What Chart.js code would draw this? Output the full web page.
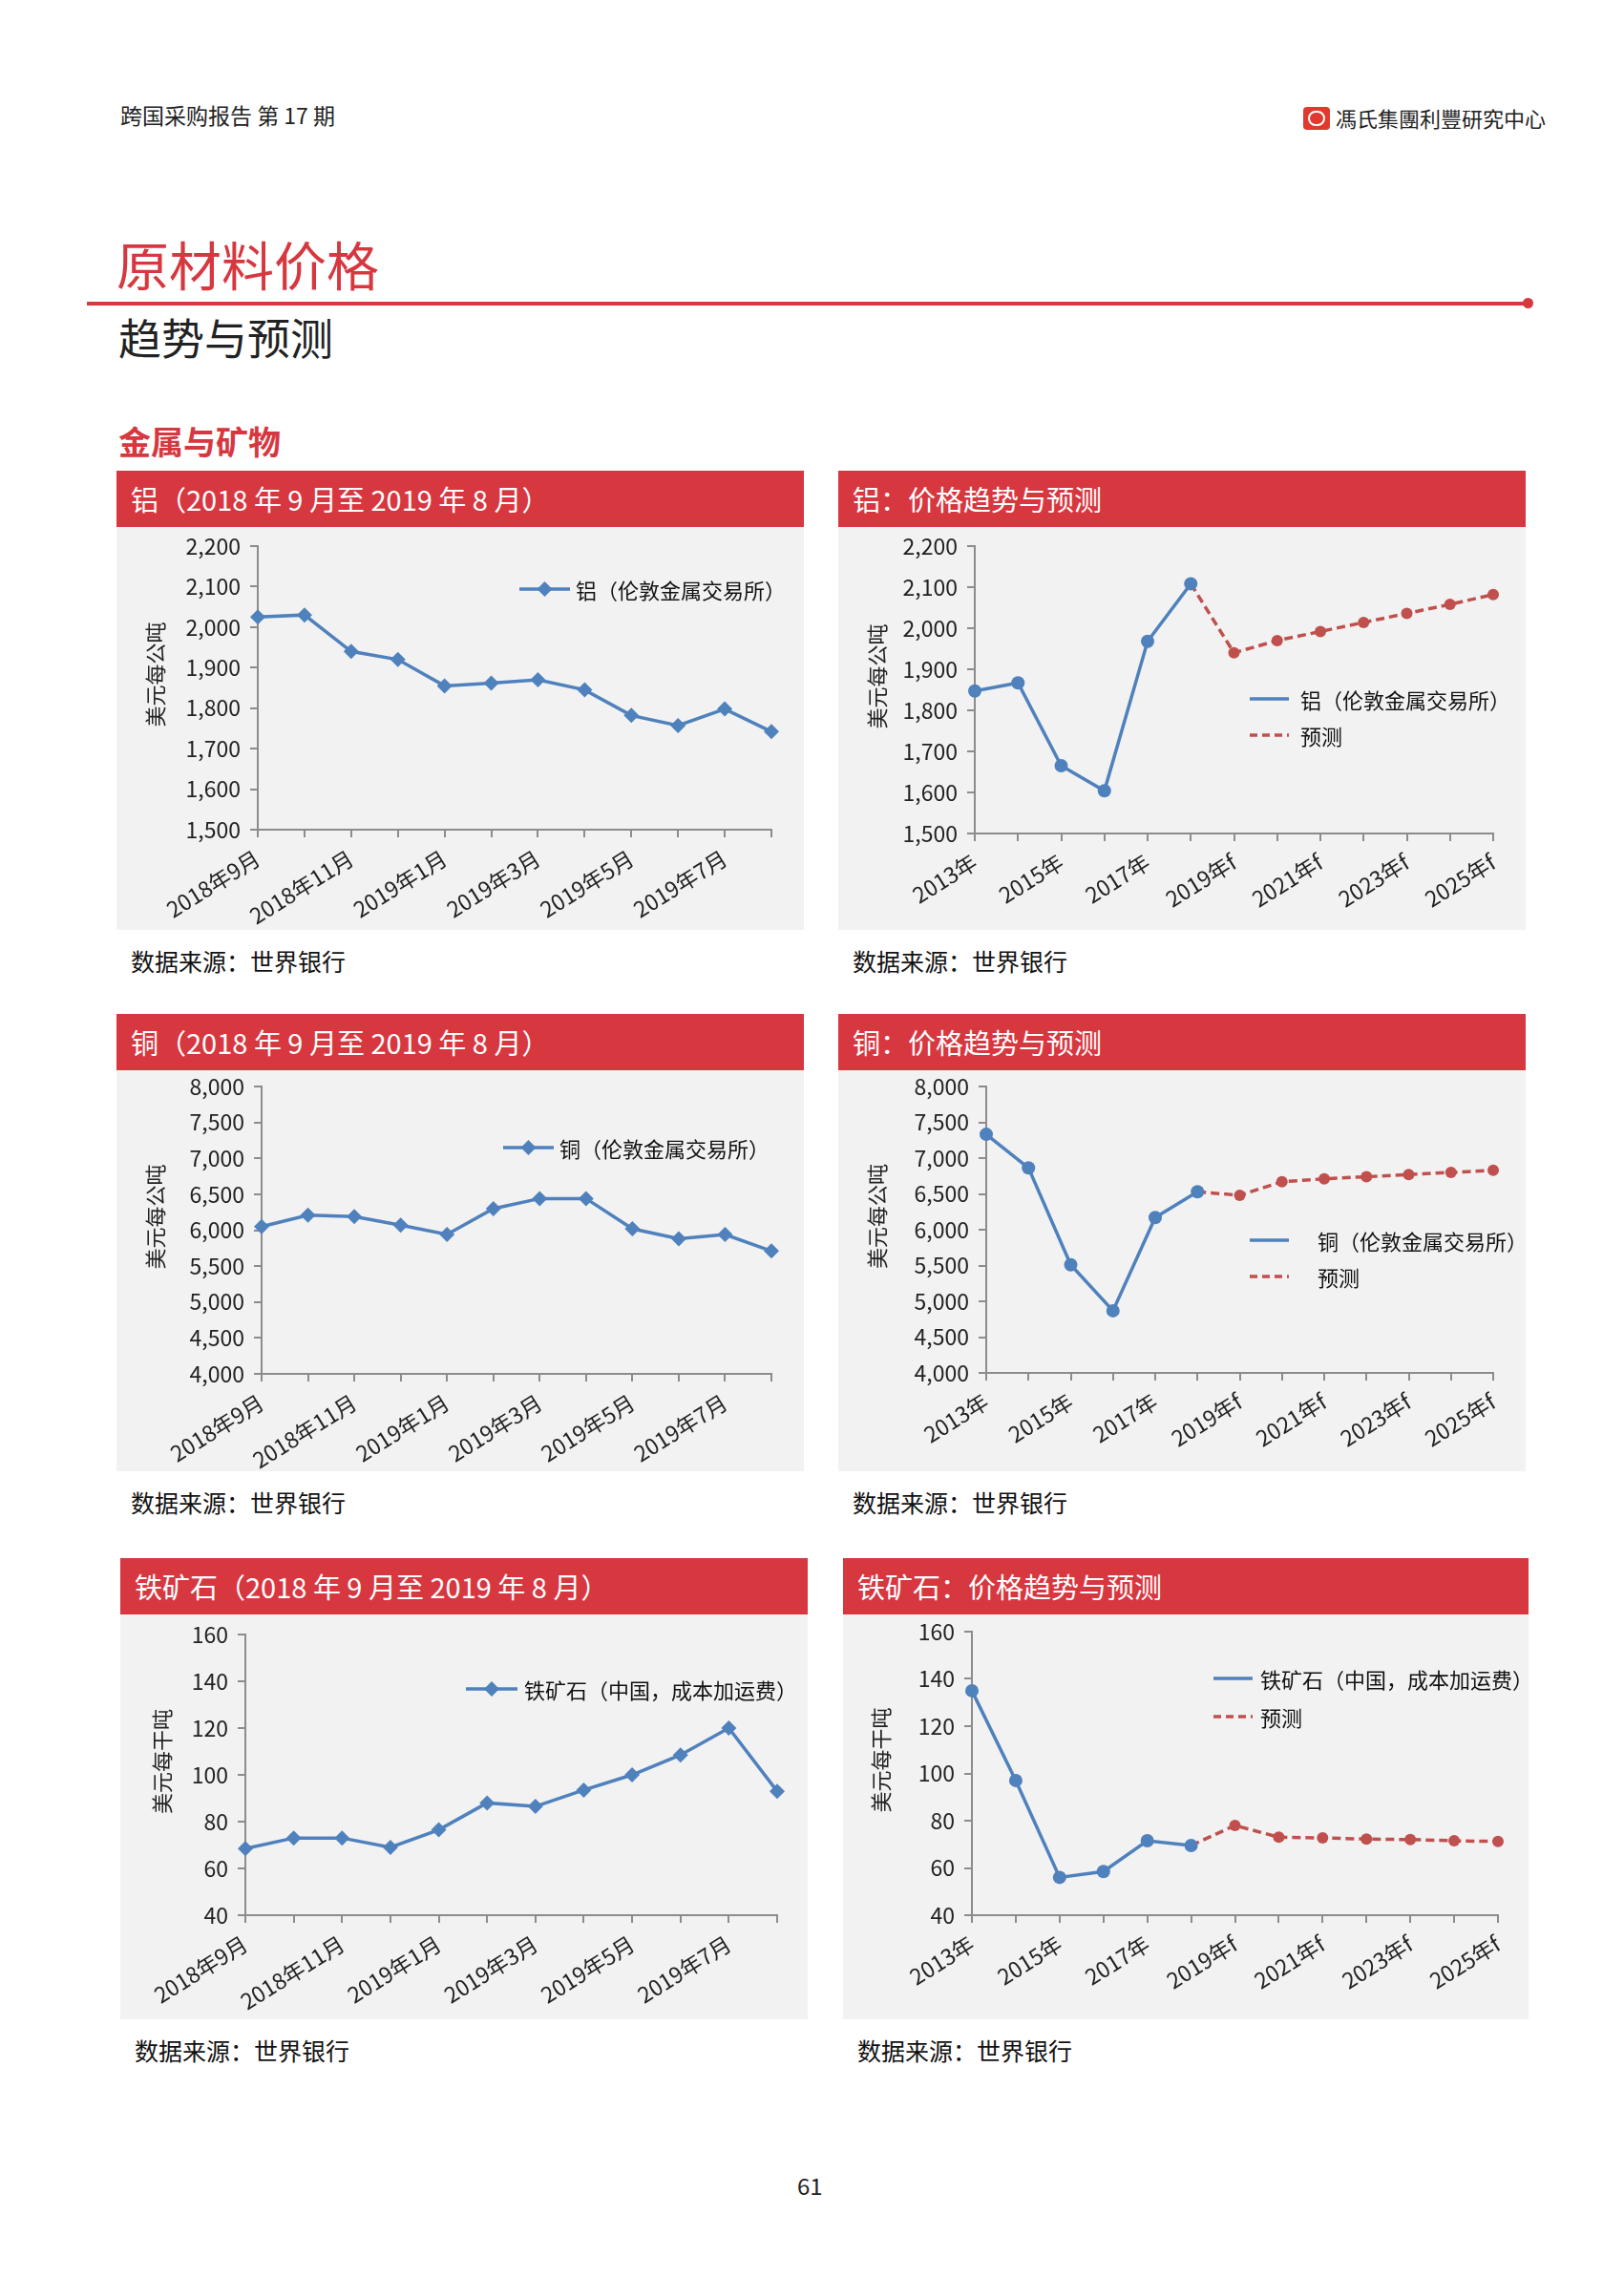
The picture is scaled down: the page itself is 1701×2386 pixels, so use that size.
<!DOCTYPE html>
<html>
<head>
<meta charset="utf-8">
<script src="https://cdn.jsdelivr.net/npm/chart.js@4.4.1/dist/chart.umd.min.js"></script>
<style>
  html, body { margin: 0; padding: 0; background: #fff; }
  body { font-family: "Noto Sans CJK SC", "Noto Sans", sans-serif; color: #222; }
  #page { position: relative; width: 1701px; height: 2386px; overflow: hidden; }
  .abs { position: absolute; white-space: nowrap; }
  .panel { position: absolute; }
  .panel .hd { background: #D7373F; color: #fff; font-size: 29px; line-height: 59px; height: 59px; padding-left: 15px; box-sizing: border-box; }
  .panel .bd { position: relative; background: #F2F2F2; }
  .panel canvas { display: block; }
  .panel .src { position: absolute; left: 15px; font-size: 25px; color: #111; }
  .lg { position: absolute; font-size: 22px; color: #111; white-space: nowrap; }
  .lg svg { position: absolute; }
</style>
</head>
<body>
<div id="page">
  <div class="abs" style="left:126px; top:103px; font-size:23px;">跨国采购报告 第 17 期</div>
  <div class="abs" style="left:1365px; top:112px; width:28px; height:24px; background:#E03A2E; border-radius:4px;">
    <div style="position:absolute; left:5px; top:4px; width:18px; height:16px; border:2px solid #fff; border-radius:8px; box-sizing:border-box;"></div>
  </div>
  <div class="abs" style="left:1399px; top:107px; font-size:22px; font-family:'Noto Sans CJK TC';">馮氏集團利豐研究中心</div>

  <div class="abs" style="left:122px; top:235px; font-size:55px; color:#D7373F;">原材料价格</div>
  <div class="abs" style="left:91px; top:316px; width:1506px; height:4px; background:#D7373F;"></div>
  <div class="abs" style="left:1595px; top:312px; width:11px; height:11px; border-radius:50%; background:#D7373F;"></div>
  <div class="abs" style="left:124px; top:320px; font-size:45px; color:#222;">趋势与预测</div>
  <div class="abs" style="left:124px; top:437px; font-size:34px; font-weight:bold; color:#D7373F;">金属与矿物</div>

  <div class="abs" style="left:835px; top:2271px; font-size:24px;">61</div>
</div>

<script>
// ---- data: aluminium, copper, iron ore (World Bank) ----
const monthLabels = ['2018年9月', '2018年10月', '2018年11月', '2018年12月', '2019年1月', '2019年2月',
                     '2019年3月', '2019年4月', '2019年5月', '2019年6月', '2019年7月', '2019年8月'];
const yearLabels = ['2013年', '2014年', '2015年', '2016年', '2017年', '2018年',
                    '2019年f', '2020年f', '2021年f', '2022年f', '2023年f', '2024年f', '2025年f'];

const aluMonthly = [2025, 2030, 1940, 1920, 1855, 1862, 1870, 1845, 1782, 1757, 1798, 1742];
const aluActual = [1847, 1867, 1665, 1604, 1968, 2108, null, null, null, null, null, null, null];
const aluForecast = [null, null, null, null, null, 2108, 1940, 1970, 1992, 2014, 2036, 2058, 2082];

const cuMonthly = [6050, 6210, 6190, 6070, 5940, 6300, 6440, 6440, 6020, 5880, 5940, 5710];
const cuActual = [7332, 6863, 5510, 4868, 6170, 6530, null, null, null, null, null, null, null];
const cuForecast = [null, null, null, null, null, 6530, 6480, 6670, 6710, 6740, 6770, 6800, 6830];

const feMonthly = [68.5, 73, 73, 69, 76.5, 88, 86.5, 93.5, 100, 108.5, 120, 93];
const feActual = [135, 97, 56, 58.5, 71.5, 69.5, null, null, null, null, null, null, null];
const feForecast = [null, null, null, null, null, 69.5, 78, 73, 72.7, 72.2, 72, 71.5, 71.2];

// [min, max, step]
const aluTicks = [1500, 2200, 100];
const cuTicks = [4000, 8000, 500];
const feTicks = [40, 160, 20];

const BLUE = '#4F81BD';
const RED = '#C0504D';
const AXIS = '#8C8C8C';
const FONT = '"Noto Sans CJK SC", "Noto Sans", sans-serif';

const page = document.getElementById('page');

// vertical axis title, drawn a little above the middle like the original
const yTitlePlugin = {
    id: 'yTitle',
    afterDraw: function(chart, args, opts) {
        const ctx = chart.ctx;
        const area = chart.chartArea;
        ctx.save();
        ctx.translate(opts.x, (area.top + area.bottom) / 2 - 14);
        ctx.rotate(-Math.PI / 2);
        ctx.fillStyle = '#222';
        ctx.font = '22px ' + FONT;
        ctx.textAlign = 'center';
        ctx.textBaseline = 'middle';
        ctx.fillText(opts.text, 0, 0);
        ctx.restore();
    }
};

// one red-headed panel with grey chart body and source line
function addPanel(p) {
    const el = document.createElement('div');
    el.className = 'panel';
    el.style.left = p.x + 'px';
    el.style.top = p.y + 'px';
    el.style.width = p.w + 'px';
    el.innerHTML = '<div class="hd">' + p.title + '</div>' +
        '<div class="bd" style="height:' + p.h + 'px"><canvas width="' + p.w + '" height="' + p.h + '"></canvas></div>' +
        '<div class="src" style="top:' + (59 + p.h + 14) + 'px">数据来源：世界银行</div>';
    page.appendChild(el);
    const bd = el.querySelector('.bd');
    p.legend.forEach(function(item) {
        const lg = document.createElement('div');
        lg.className = 'lg';
        lg.style.left = item.x + 'px';
        lg.style.top = (item.y - 15) + 'px';
        const w = item.w;
        let svg = '<svg width="' + w + '" height="30" style="left:0;top:0">';
        svg += '<line x1="0" y1="15" x2="' + w + '" y2="15" stroke="' + item.color + '" stroke-width="3.5"' +
               (item.dash ? ' stroke-dasharray="8,5"' : '') + '/>';
        if (item.diamond) {
            const c = w / 2;
            svg += '<polygon points="' + c + ',7 ' + (c + 8) + ',15 ' + c + ',23 ' + (c - 8) + ',15" fill="' + item.color + '"/>';
        }
        svg += '</svg>';
        lg.innerHTML = svg + '<span style="position:absolute; left:' + item.tx + 'px; top:0; line-height:30px;">' + item.text + '</span>';
        bd.appendChild(lg);
    });
    return el.querySelector('canvas');
}

function buildChart(canvas, p, labels, datasets, ticks) {
    return new Chart(canvas, {
        type: 'line',
        data: { labels: labels, datasets: datasets },
        plugins: [yTitlePlugin],
        options: {
            responsive: false,
            animation: false,
            devicePixelRatio: 1,
            layout: { padding: { left: 0, top: p.top, right: p.w - p.right, bottom: 0 } },
            plugins: {
                legend: { display: false },
                tooltip: { enabled: false },
                yTitle: { text: p.yTitle, x: p.titleX }
            },
            scales: {
                x: {
                    offset: false,
                    grid: { display: true, drawOnChartArea: false, drawTicks: true, tickLength: 8, color: AXIS, lineWidth: 2 },
                    border: { display: true, color: AXIS, width: 2 },
                    ticks: {
                        autoSkip: false, minRotation: 32, maxRotation: 32, padding: 8,
                        color: '#222', font: { family: FONT, size: 23 },
                        callback: function(v, i) { return i % 2 === 0 ? this.getLabelForValue(v) : ''; }
                    },
                    afterFit: function(s) { s.height = p.h - p.bottom; s.paddingLeft = 0; s.paddingRight = 0; }
                },
                y: {
                    min: ticks[0], max: ticks[1],
                    grid: { display: true, drawOnChartArea: false, drawTicks: true, tickLength: 8, color: AXIS, lineWidth: 2 },
                    border: { display: true, color: AXIS, width: 2 },
                    ticks: {
                        stepSize: ticks[2], padding: 10, color: '#222', font: { family: FONT, size: 23 },
                        callback: function(v) { return v.toLocaleString('en-US'); }
                    },
                    afterFit: function(s) { s.width = p.axisX; s.paddingTop = 0; s.paddingBottom = 0; }
                }
            }
        }
    });
}

function monthlyChart(p, values, ticks) {
    const canvas = addPanel(p);
    buildChart(canvas, p, monthLabels, [{
        data: values,
        borderColor: BLUE, backgroundColor: BLUE, borderWidth: 3.5,
        pointStyle: 'rectRot', pointRadius: 8, pointBorderWidth: 0, tension: 0
    }], ticks);
}

function trendChart(p, actual, forecast, ticks) {
    const canvas = addPanel(p);
    buildChart(canvas, p, yearLabels, [{
        data: actual,
        borderColor: BLUE, backgroundColor: BLUE, borderWidth: 3.5,
        pointStyle: 'circle', pointRadius: 7, pointBorderWidth: 0, tension: 0, spanGaps: false
    }, {
        data: forecast,
        borderColor: RED, backgroundColor: RED, borderWidth: 3.5, borderDash: [9, 5],
        pointStyle: 'circle', pointRadius: forecast.map(function(v, i) { return i === 5 ? 0 : 6; }),
        pointBorderWidth: 0, tension: 0, spanGaps: false
    }], ticks);
}

// ---- row 1: aluminium ----
monthlyChart({
    x: 122, y: 493, w: 720, h: 422, title: '铝（2018 年 9 月至 2019 年 8 月）', yTitle: '美元每公吨',
    axisX: 148, top: 20, bottom: 317, right: 686, titleX: 41,
    legend: [{ x: 422, y: 65, w: 53, tx: 59, color: BLUE, diamond: true, text: '铝（伦敦金属交易所）' }]
}, aluMonthly, aluTicks);

trendChart({
    x: 878, y: 493, w: 720, h: 422, title: '铝：价格趋势与预测', yTitle: '美元每公吨',
    axisX: 143, top: 20, bottom: 321, right: 686, titleX: 41,
    legend: [{ x: 431, y: 180, w: 41, tx: 53, color: BLUE, text: '铝（伦敦金属交易所）' },
             { x: 431, y: 218, w: 41, tx: 53, color: RED, dash: true, text: '预测' }]
}, aluActual, aluForecast, aluTicks);

// ---- row 2: copper ----
monthlyChart({
    x: 122, y: 1062, w: 720, h: 420, title: '铜（2018 年 9 月至 2019 年 8 月）', yTitle: '美元每公吨',
    axisX: 152, top: 17, bottom: 318, right: 686, titleX: 41,
    legend: [{ x: 405, y: 81, w: 53, tx: 59, color: BLUE, diamond: true, text: '铜（伦敦金属交易所）' }]
}, cuMonthly, cuTicks);

trendChart({
    x: 878, y: 1062, w: 720, h: 420, title: '铜：价格趋势与预测', yTitle: '美元每公吨',
    axisX: 155, top: 17, bottom: 317, right: 686, titleX: 41,
    legend: [{ x: 431, y: 178, w: 41, tx: 71, color: BLUE, text: '铜（伦敦金属交易所）' },
             { x: 431, y: 216, w: 41, tx: 71, color: RED, dash: true, text: '预测' }]
}, cuActual, cuForecast, cuTicks);

// ---- row 3: iron ore ----
monthlyChart({
    x: 126, y: 1632, w: 720, h: 424, title: '铁矿石（2018 年 9 月至 2019 年 8 月）', yTitle: '美元每干吨',
    axisX: 131, top: 21, bottom: 315, right: 688, titleX: 44,
    legend: [{ x: 362, y: 78, w: 54, tx: 61, color: BLUE, diamond: true, text: '铁矿石（中国，成本加运费）' }]
}, feMonthly, feTicks);

trendChart({
    x: 883, y: 1632, w: 718, h: 424, title: '铁矿石：价格趋势与预测', yTitle: '美元每干吨',
    axisX: 135, top: 18, bottom: 315, right: 686, titleX: 40,
    legend: [{ x: 388, y: 67, w: 41, tx: 49, color: BLUE, text: '铁矿石（中国，成本加运费）' },
             { x: 388, y: 107, w: 41, tx: 49, color: RED, dash: true, text: '预测' }]
}, feActual, feForecast, feTicks);
</script>
</body>
</html>
